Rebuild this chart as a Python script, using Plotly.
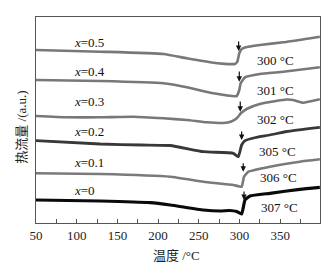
import plotly.graph_objects as go

# Temperature (°C) and heat flow (a.u.)
t_05 = [50, 128.9, 206.6, 235.3, 267.9, 294.5, 297.4, 299.8, 302.7, 306.8, 325.2, 353.8, 398.8]
h_05 = [173, 171.3, 169, 164.7, 160.3, 159, 161.3, 169.7, 174, 175.5, 178, 180.7, 186.3]

t_04 = [50, 128.9, 206.6, 235.3, 267.9, 296.6, 299.8, 301.5, 306.8, 325.2, 353.8, 398.8]
h_04 = [143, 142, 139.7, 135.7, 129.7, 127, 133, 139.7, 145.7, 149, 151.3, 155.7]

t_03 = [50, 88, 128.9, 169.8, 206.6, 235.3, 259.8, 280, 290, 297, 302, 310, 325, 345, 358, 366, 378, 398.8]
h_03 = [107, 105.7, 105.7, 106.3, 104.7, 103, 100.7, 100, 101.5, 105, 110, 114.5, 119, 122, 123.5, 123, 120.3, 123.7]

t_02 = [50, 128.9, 180, 215, 255.7, 292.5, 298.6, 302.7, 306.8, 320, 337.5, 358, 398.8]
h_02 = [82.3, 79, 78, 77.5, 71.3, 69.7, 66.3, 78, 82.3, 85.5, 88, 91.5, 95.7]

t_01 = [50, 128.9, 215, 255.7, 292.5, 302.7, 305.6, 311, 337.5, 374.3, 398.8]
h_01 = [49.7, 49, 46.3, 41.3, 38, 36.3, 46.3, 51.3, 56.3, 61.3, 63.7]

t_00 = [50, 128.9, 190.2, 215, 255.7, 276, 288, 296.6, 302.7, 306.8, 313, 337.5, 374.3, 398.8]
h_00 = [23, 22, 20.3, 18, 13, 12, 12.5, 11.5, 9, 23, 27, 29.7, 33.7, 35.7]

series_names = ["x=0.5", "x=0.4", "x=0.3", "x=0.2", "x=0.1", "x=0"]
series_t = [t_05, t_04, t_03, t_02, t_01, t_00]
series_h = [h_05, h_04, h_03, h_02, h_01, h_00]
colors = ["#787878", "#787878", "#787878", "#383838", "#7a7a7a", "#0a0a0a"]
widths = [2.6, 2.6, 2.6, 2.8, 2.6, 3.2]

# Sample labels
label_text = ["<i>x</i>=0.5", "<i>x</i>=0.4", "<i>x</i>=0.3", "<i>x</i>=0.2", "<i>x</i>=0.1", "<i>x</i>=0"]
label_t = [94, 94, 94, 94, 94, 94]
label_h = [180.7, 152, 121.3, 92, 60.3, 33]

# Transition temperatures
temp_text = ["300 °C", "301 °C", "302 °C", "305 °C", "306 °C", "307 °C"]
temp_t = [344.8, 344.8, 344.8, 347, 348.5, 349.8]
temp_h = [163, 133, 103.7, 71.3, 45.3, 15.3]

# Arrow markers
arrow_t = [299, 299.8, 301, 302.7, 304.7, 305.6]
arrow_tail = [183, 153, 123, 93, 61.3, 33]
arrow_tip = [172, 141.3, 111.3, 83, 51.3, 23]

FONT = "Liberation Serif, Times New Roman, Noto Sans CJK SC, serif"

fig = go.Figure()
for name, t, h, c, w in zip(series_names, series_t, series_h, colors, widths):
    fig.add_trace(go.Scatter(x=t, y=h, mode="lines", name=name,
                             line=dict(color=c, width=w, shape="spline", smoothing=0.4),
                             showlegend=False))

ann = []
for txt, x, y in zip(label_text, label_t, label_h):
    ann.append(dict(x=x, y=y, xref="x", yref="y", text=txt, showarrow=False,
                    xanchor="left", yanchor="middle", font=dict(size=13, color="#111")))
for txt, x, y in zip(temp_text, temp_t, temp_h):
    ann.append(dict(x=x, y=y, xref="x", yref="y", text=txt, showarrow=False,
                    xanchor="center", yanchor="middle", font=dict(size=13, color="#111")))
for x, y0, y1 in zip(arrow_t, arrow_tail, arrow_tip):
    ann.append(dict(x=x, y=y1, ax=x, ay=y0, xref="x", yref="y", axref="x", ayref="y",
                    text="", showarrow=True, arrowhead=2, arrowsize=0.9, arrowwidth=1.2,
                    arrowcolor="#111", standoff=0, startstandoff=0))
ann.append(dict(x=-0.054, y=0.466, xref="paper", yref="paper", text="热流量 /(a.u.)",
                textangle=-90, showarrow=False, xanchor="center", yanchor="middle",
                font=dict(size=13, color="#222")))
ann.append(dict(x=0.496, y=-0.16, xref="paper", yref="paper", text="温度 /°C",
                showarrow=False, xanchor="center", yanchor="middle",
                font=dict(size=13, color="#222")))

# The page body adds an 8 px offset, so the figure is sized/margined to compensate
fig.update_layout(
    width=323, height=260,
    margin=dict(l=28, r=11, t=9, b=45),
    paper_bgcolor="white", plot_bgcolor="white",
    font=dict(family=FONT, size=13, color="#222"),
    annotations=ann,
    xaxis=dict(range=[50, 399], tick0=50, dtick=50, ticks="inside", ticklen=4,
               tickcolor="#555", tickwidth=1, showgrid=False, zeroline=False,
               showline=True, linecolor="#555", linewidth=1, mirror=True,
               tickfont=dict(size=13, color="#222"),
               minor=dict(ticks="inside", ticklen=4, dtick=25, tick0=50, tickcolor="#555", showgrid=False)),
    yaxis=dict(range=[0, 206], showticklabels=False, ticks="", showgrid=False,
               zeroline=False, showline=True, linecolor="#555", linewidth=1, mirror=True),
)

fig.write_html("out.html")
